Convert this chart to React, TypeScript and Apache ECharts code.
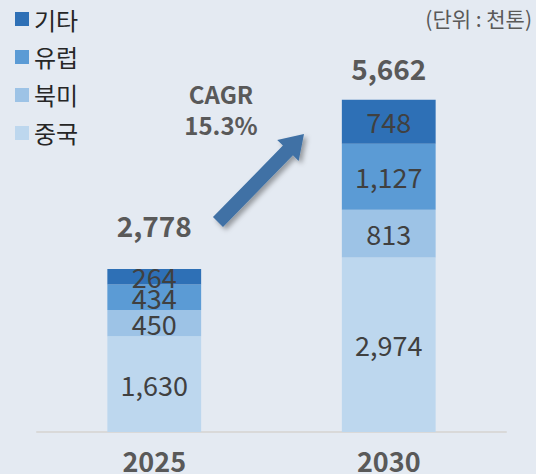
import React, { useEffect, useRef } from "react";
import * as echarts from "echarts";

const categories = ["2025", "2030"];
const china = [1630, 2974];
const northAmerica = [450, 813];
const europe = [434, 1127];
const others = [264, 748];
const totals = [2778, 5662];
const legendNames = ["기타", "유럽", "북미", "중국"];
const unitText = "(단위 : 천톤)";
const cagrText = "CAGR\n15.3%";

const FONT = "'Noto Sans CJK KR', 'Noto Sans', sans-serif";

export default function App() {
  const ref = useRef<HTMLDivElement>(null);
  useEffect(() => {
    const chart = echarts.init(ref.current!, null, { renderer: "svg" });
    const segLabel = {
      show: true,
      position: "inside",
      fontSize: 27,
      color: "#404040",
      fontFamily: FONT,
      formatter: (p: any) => p.value.toLocaleString("en-US"),
    };
    const mk = (name: string, data: number[], color: string) => ({
      name,
      type: "bar",
      stack: "total",
      data,
      barWidth: "40%",
      itemStyle: { color },
      label: segLabel,
    });
    // arrow geometry (decoration)
    const T = [218, 222];
    const P = [304, 134];
    const dx = P[0] - T[0];
    const dy = P[1] - T[1];
    const len = Math.hypot(dx, dy);
    const u = [dx / len, dy / len];
    const n = [-u[1], u[0]];
    const headLen = 23;
    const headHalf = 15;
    const shaftHalf = 7;
    const B = [P[0] - u[0] * headLen, P[1] - u[1] * headLen];
    const pt = (c: number[], k: number) => [c[0] + n[0] * k, c[1] + n[1] * k];
    const arrowPts = [
      pt(T, shaftHalf),
      pt(B, shaftHalf),
      pt(B, headHalf),
      P,
      pt(B, -headHalf),
      pt(B, -shaftHalf),
      pt(T, -shaftHalf),
    ];

    chart.setOption({
      animation: false,
      backgroundColor: "#e4eaf2",
      grid: { left: 37, right: 30, top: 80, bottom: 40 },
      legend: {
        data: legendNames,
        orient: "vertical",
        left: 10,
        top: 2,
        icon: "rect",
        itemWidth: 14,
        itemHeight: 14,
        itemGap: 14,
        textStyle: { fontSize: 24, color: "#262626", fontFamily: FONT },
      },
      xAxis: {
        type: "category",
        data: categories,
        axisLine: { lineStyle: { color: "#d9d9d9", width: 2 } },
        axisTick: { show: false },
        axisLabel: {
          fontSize: 27,
          fontWeight: 600,
          color: "#595959",
          fontFamily: FONT,
          margin: 15,
        },
      },
      yAxis: { type: "value", min: 0, max: 6000, show: false, splitLine: { show: false } },
      series: [
        mk("중국", china, "#bdd7ee"),
        mk("북미", northAmerica, "#9dc3e6"),
        mk("유럽", europe, "#5b9bd5"),
        mk("기타", others, "#2e70b6"),
        {
          name: "total",
          type: "bar",
          data: totals.map((v, i) => ({
            value: v,
            label: { distance: i === 0 ? 30 : 18 },
          })),
          barWidth: "40%",
          barGap: "-100%",
          itemStyle: { color: "transparent" },
          z: 1,
          label: {
            show: true,
            position: "top",
            fontSize: 28,
            fontWeight: 600,
            color: "#595959",
            fontFamily: FONT,
            formatter: (p: any) => p.value.toLocaleString("en-US"),
          },
          silent: true,
        },
      ],
      graphic: [
        {
          type: "text",
          right: 4,
          top: 7,
          style: { text: unitText, fontSize: 21, fill: "#595959", fontFamily: FONT },
        },
        {
          type: "text",
          x: 221,
          y: 78,
          style: {
            text: cagrText,
            fontSize: 24,
            fontWeight: 600,
            fontFamily: FONT,
            fill: "#595959",
            align: "center",
            lineHeight: 31,
          },
        },
        {
          type: "polygon",
          shape: { points: arrowPts },
          style: {
            fill: "#3f71a5",
            shadowBlur: 5,
            shadowOffsetX: 3,
            shadowOffsetY: 3,
            shadowColor: "rgba(0,0,0,0.35)",
          },
        },
      ],
    });
    return () => chart.dispose();
  }, []);
  return (
    <div
      ref={ref}
      style={{ position: "fixed", left: 0, top: 0, width: 536, height: 474 }}
    />
  );
}
